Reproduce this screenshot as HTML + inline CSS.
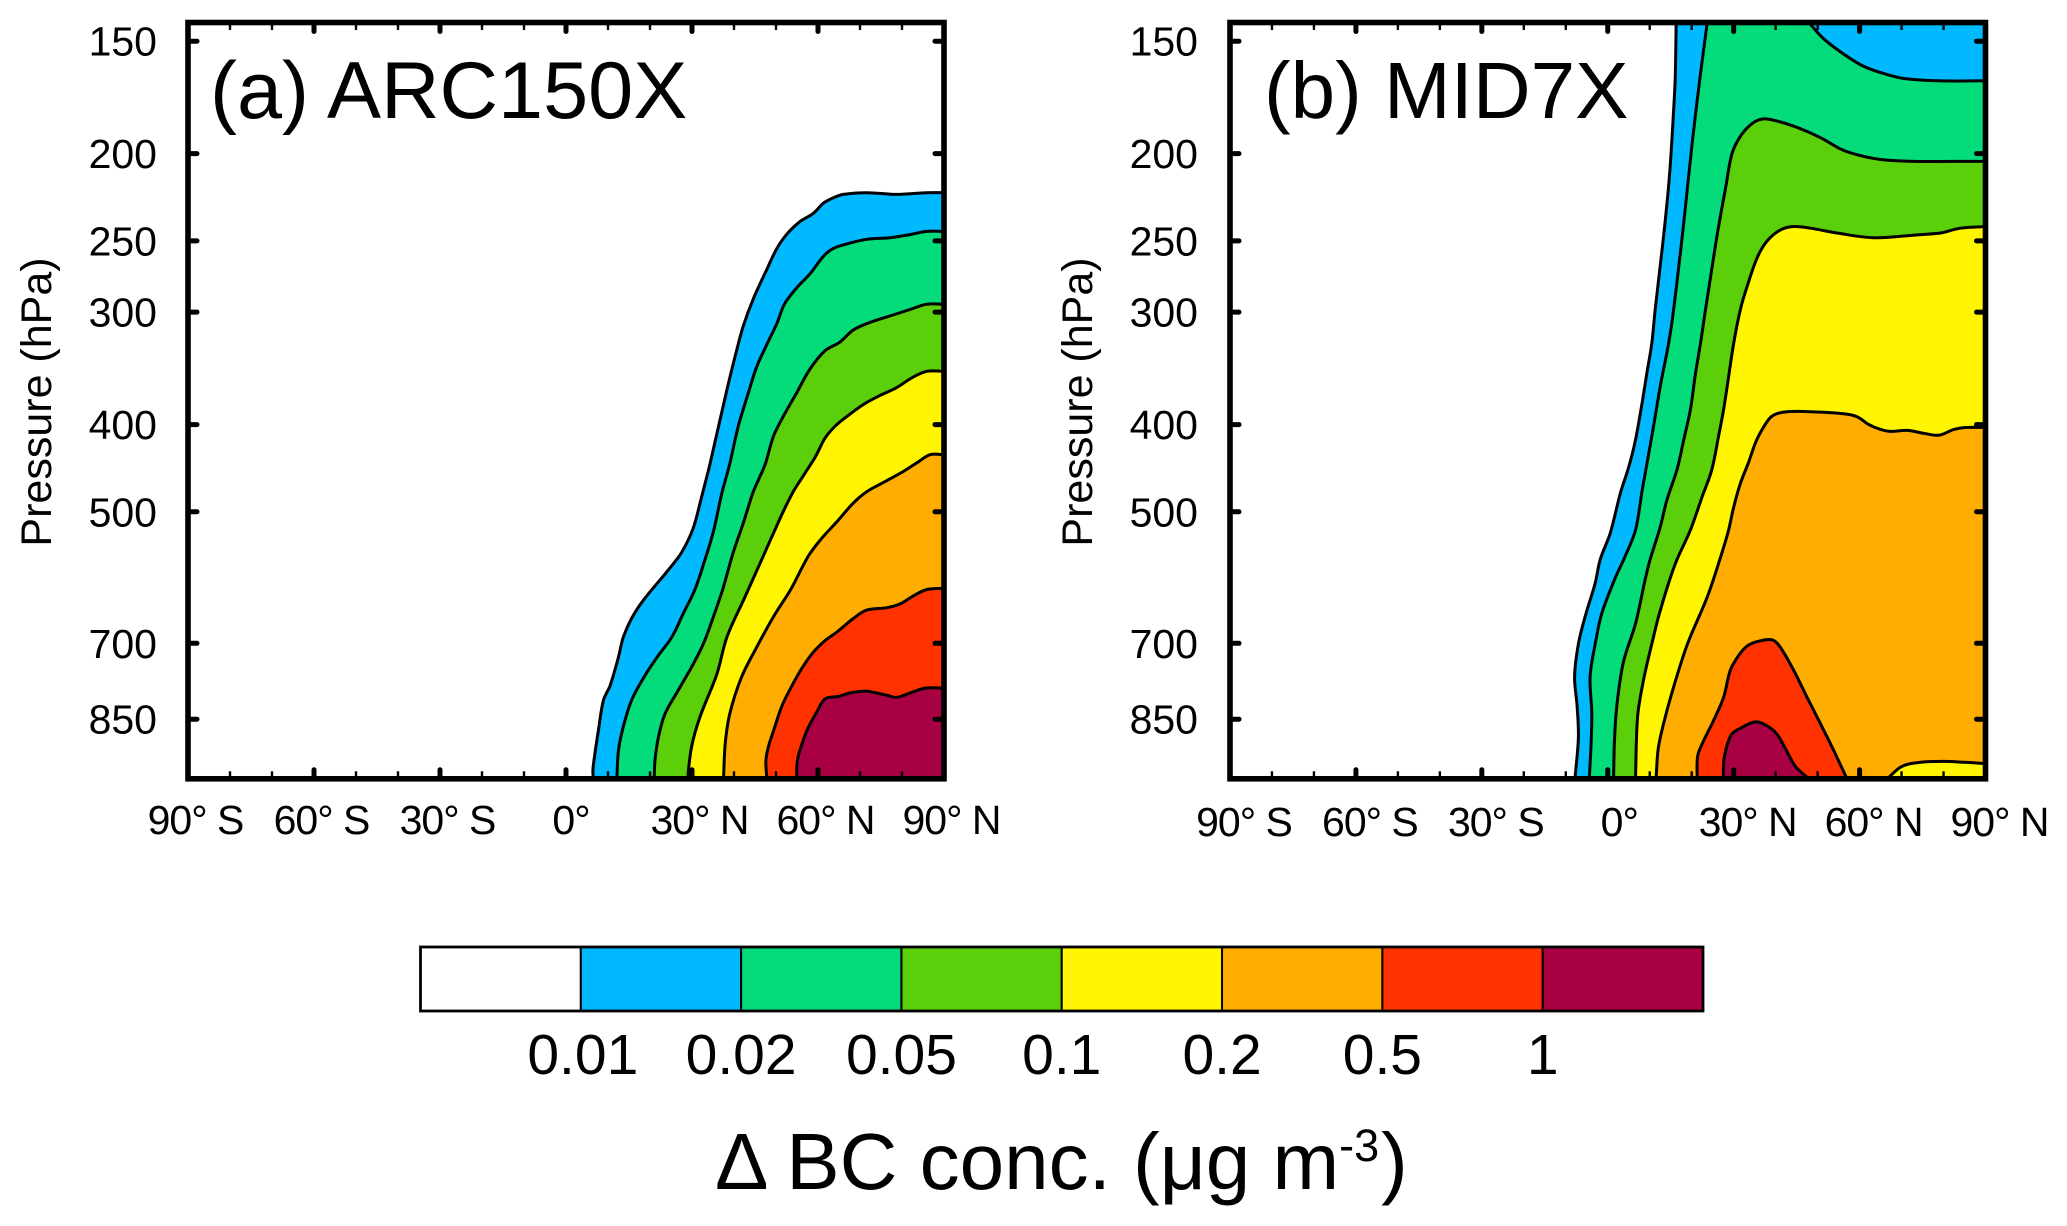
<!DOCTYPE html>
<html lang="en">
<head>
<meta charset="utf-8">
<title>BC concentration change</title>
<style>
html,body{margin:0;padding:0;background:#fff;}
svg{display:block;font-family:"Liberation Sans",sans-serif;fill:#000;}
</style>
</head>
<body>
<svg id="chart" width="2067" height="1226" viewBox="0 0 2067 1226">
  <rect x="0" y="0" width="2067" height="1226" fill="#fff"/>
  <defs>
    <clipPath id="clip-a"><rect x="188" y="22.5" width="756" height="756.5"/></clipPath>
    <clipPath id="clip-b"><rect x="1230" y="22.5" width="755.5" height="756.5"/></clipPath>
  </defs>
  <g id="panel-a"></g>
  <g id="panel-b"></g>
  <text x="210" y="118" font-size="81">(a) ARC150X</text>
  <text x="1264" y="118" font-size="80">(b) MID7X</text>
  <g id="colorbar"></g>
  <text x="715" y="1189" font-size="80">Δ BC conc. (μg m<tspan font-size="45" dy="-28">-3</tspan><tspan dy="28" dx="2">)</tspan></text>
</svg>
<script>
// Axis values
const pressureTicks = [150, 200, 250, 300, 400, 500, 700, 850];
const latMajorTicks = [-90, -60, -30, 0, 30, 60, 90];
const latMajorLabels = ['90° S', '60° S', '30° S', '0°', '30° N', '60° N', '90° N'];
const latMinorTicks = [-80, -70, -50, -40, -20, -10, 10, 20, 40, 50, 70, 80];
const pressureTop = 143;
const pressureBottom = 990;

// Colour bar categories
const colorbarLabels = ['0.01', '0.02', '0.05', '0.1', '0.2', '0.5', '1'];

// Panel (a) ARC150X contours: [latitude, hPa]
const arc001 = [[90,221],[85.9,221],[78.7,222],[71.6,221],[66,222],[63.6,224],[61.3,227],[58.9,233],[55.7,238],[52.5,246],[50.2,255],[47.8,269],[44.6,290],[42.2,311],[40.2,337],[38.3,366],[36.3,402],[34.3,442],[32.3,481],[30.3,521],[27.5,555],[24,583],[18.4,627],[15.6,657],[13.6,690],[12.5,725],[10.5,780],[8.9,810],[7.7,876],[6.9,927],[6.4,968],[6.5,990]];
const arc002 = [[90,244],[85.9,244],[81.9,246],[77.1,248],[71.6,249],[66.8,252],[63.6,255],[61.3,260],[58.1,272],[54.9,282],[52,294],[50.2,309],[47.8,326],[45.4,345],[43.4,369],[41,402],[39,442],[37.1,477],[35.1,526],[33.1,565],[30.7,610],[27.9,649],[25.2,689],[22,722],[18.8,760],[15.6,810],[13.6,868],[12.5,920],[12.1,990]];
const arc005 = [[90,294],[85.9,294],[81.9,298],[77.1,303],[72.4,308],[68.4,314],[65.2,324],[61.7,331],[58.1,347],[54.9,369],[51.7,392],[49.4,412],[47.4,443],[44.6,475],[42.2,515],[39.8,555],[37.3,610],[35.1,654],[32.7,701],[29.9,744],[26.4,794],[23.6,838],[22,890],[21.2,944],[21,990]];
const arc01 = [[90,349],[85.9,349],[82.3,355],[78.7,364],[74.4,372],[70.8,380],[66.8,392],[64,402],[61.7,414],[59.3,435],[56.9,453],[54.1,475],[51.7,500],[49.4,528],[46.6,565],[42.6,622],[38.3,689],[35.9,758],[31.9,845],[29.9,912],[29.1,976],[29.1,990]];
const arc02 = [[90,432],[86.7,432],[83.9,440],[80.3,451],[75.9,463],[71.6,475],[68.4,489],[64.5,513],[60.9,535],[57.7,560],[53.5,610],[49.4,654],[45.4,707],[41.8,763],[39,838],[37.9,905],[37.5,990]];
const arc05 = [[90,608],[85.9,610],[82.7,620],[79.5,633],[76.4,639],[71.6,643],[68.4,657],[64.5,680],[61.7,695],[58.9,716],[56.1,747],[53.7,782],[51.4,822],[49.4,876],[48.2,912],[47.6,944],[47.8,990]];
const arc1 = [[90,785],[85.5,785],[81.9,795],[78.7,804],[76.7,800],[74,795],[71.2,791],[67.6,795],[64.8,802],[61.7,807],[59.7,835],[57.7,868],[56.1,908],[55.1,944],[54.9,990]];

// Panel (b) MID7X contours: [latitude, hPa]
const mid001 = [[16.3,142],[16.1,164],[15.7,179],[14.7,212],[13.3,247],[11.3,298],[10.5,325],[9.3,351],[8.2,378],[6.6,416],[5,446],[3,477],[0.6,528],[-1.8,565],[-3,600],[-5.4,654],[-7,701],[-7.9,763],[-7.3,822],[-7,890],[-7.8,990]];
const mid002 = [[23.8,142],[22.1,163],[20.1,195],[18.1,239],[15.7,298],[14.5,325],[12.5,363],[10.9,402],[9.5,438],[8.2,473],[6.6,524],[3.8,565],[1.8,592],[-1.4,648],[-3,701],[-4.2,763],[-3.8,838],[-4,912],[-4.4,990]];
const mid001Upper = [[47.9,143],[51.4,149],[56.2,155],[61,160],[65.9,163],[70.6,165],[78.6,166],[90,166]];
const mid005 = [[90,204],[82.5,204],[72.9,204],[65,203],[60.2,201],[55.8,198],[50.7,192],[45.1,187],[40.4,184],[37.1,183],[34.5,185],[31.7,191],[29.6,200],[28.1,218],[26.4,241],[24.5,274],[23.3,298],[22.1,325],[20.9,351],[19.7,385],[18.1,416],[16.5,449],[14.1,485],[12.5,520],[10.1,565],[8.9,595],[6.6,666],[3.8,732],[2.3,810],[1.6,896],[1.4,990]];
const mid01 = [[90,241],[84,242],[79.3,245],[74.5,246],[63.4,248],[54.6,245],[48.3,242],[44.3,241],[41.2,243],[38,250],[35.6,261],[33.2,281],[31.6,298],[30,325],[28.8,354],[27.6,385],[26.4,412],[24.8,449],[22.5,481],[19.7,524],[16.5,565],[14.5,600],[12.1,654],[10.5,701],[8.5,770],[7.1,845],[6.6,990]];
const mid02 = [[90,403],[85.2,403],[82.5,405],[78.9,411],[75.3,409],[71.3,406],[67.4,407],[65,405],[62.2,400],[59.4,392],[56.2,389],[48.3,387],[42.7,387],[40.3,389],[38.7,393],[36.8,405],[35.2,419],[33.6,440],[31.6,465],[30,494],[28.8,524],[26.7,565],[23.7,622],[19.3,695],[16.9,750],[14.1,832],[12.1,912],[11.5,990]];
const mid05 = [[21.3,990],[21.4,935],[22.5,905],[25.2,853],[27.6,804],[29.2,750],[31.2,722],[33.2,705],[35.6,697],[39.2,694],[41.1,707],[44.3,750],[47.5,804],[50.7,860],[53.8,920],[57,990]];
const mid1 = [[27.5,990],[27.8,935],[29.4,885],[31.6,870],[35.2,856],[38,865],[40.3,883],[42.3,916],[44.7,959],[47.9,990]];
const mid02Low = [[66.6,990],[70.1,959],[74.5,949],[80.1,947],[84.8,949],[90,952]];

// Palette (one colour per colour-bar class)
const palette = ['#ffffff', '#00b9ff', '#04db7a', '#5acf0a', '#fff500', '#ffad00', '#ff3200', '#a80042'];

const root = document.getElementById('chart');
const ns = root.namespaceURI;

function make(tag, parent) {
  const el = document.createElementNS(ns, tag);
  parent.appendChild(el);
  return el;
}

function yScale(p) {
  return 41.2 + 900 * Math.log10(p / 150);
}

function makeXScale(left, right) {
  return function (lat) {
    return left + (lat + 90) * (right - left) / 180;
  };
}

function tangentAt(pts, i) {
  const a = pts[Math.max(i - 1, 0)];
  const b = pts[Math.min(i + 1, pts.length - 1)];
  const dx = b[0] - a[0];
  const dy = b[1] - a[1];
  const len = Math.hypot(dx, dy) || 1;
  return [dx / len, dy / len];
}

function curvePath(pts) {
  let d = 'M' + pts[0][0].toFixed(1) + ' ' + pts[0][1].toFixed(1);
  for (let i = 0; i < pts.length - 1; i++) {
    const p1 = pts[i];
    const p2 = pts[i + 1];
    const seg = Math.hypot(p2[0] - p1[0], p2[1] - p1[1]) / 3;
    const t1 = tangentAt(pts, i);
    const t2 = tangentAt(pts, i + 1);
    const c1x = p1[0] + t1[0] * seg;
    const c1y = p1[1] + t1[1] * seg;
    const c2x = p2[0] - t2[0] * seg;
    const c2y = p2[1] - t2[1] * seg;
    d += 'C' + c1x.toFixed(1) + ' ' + c1y.toFixed(1) + ' ' + c2x.toFixed(1) + ' ' + c2y.toFixed(1) + ' ' + p2[0].toFixed(1) + ' ' + p2[1].toFixed(1);
  }
  return d;
}

function drawContour(group, xs, series, closure, fill, name) {
  const pts = series.map(function (q) { return [xs(q[0]), yScale(q[1])]; });
  let closing = '';
  closure.forEach(function (q) {
    closing += 'L' + xs(q[0]).toFixed(1) + ' ' + yScale(q[1]).toFixed(1);
  });
  const area = make('path', group);
  
  
  area.setAttribute('d', curvePath(pts) + closing + 'Z');
  area.setAttribute('fill', fill);
  const line = make('path', group);
  
  
  line.setAttribute('d', curvePath(pts));
  line.setAttribute('fill', 'none');
  line.setAttribute('stroke', '#000');
  line.setAttribute('stroke-width', '3');
  line.setAttribute('stroke-linejoin', 'round');
}

function drawTick(group, x1, y1, x2, y2, width, cap, name) {
  const t = make('line', group);
  
  
  t.setAttribute('x1', x1);
  t.setAttribute('y1', y1);
  t.setAttribute('x2', x2);
  t.setAttribute('y2', y2);
  t.setAttribute('stroke', '#000');
  t.setAttribute('stroke-width', width);
  t.setAttribute('stroke-linecap', cap);
}

function drawAxes(group, xs, left, right, yLabelRight, titleBaseline, xLabelOffset, xLabelBaseline) {
  const top = yScale(pressureTop);
  const bottom = yScale(pressureBottom);
  latMajorTicks.forEach(function (lat, i) {
    drawTick(group, xs(lat), bottom, xs(lat), bottom - 9, 5, 'round', 'x-major-tick-bottom');
    drawTick(group, xs(lat), top, xs(lat), top + 9, 5, 'round', 'x-major-tick-top');
    const label = make('text', group);
    
    
    label.setAttribute('x', xs(lat) + (lat === 0 ? xLabelOffset - 2.5 : xLabelOffset));
    label.setAttribute('y', xLabelBaseline);
    label.setAttribute('font-size', '41');
    label.setAttribute('letter-spacing', '-1');
    label.setAttribute('text-anchor', 'middle');
    label.textContent = latMajorLabels[i];
  });
  latMinorTicks.forEach(function (lat) {
    drawTick(group, xs(lat), bottom, xs(lat), bottom - 7.5, 2.4, 'butt', 'x-minor-tick-bottom');
    drawTick(group, xs(lat), top, xs(lat), top + 7.5, 2.4, 'butt', 'x-minor-tick-top');
  });
  pressureTicks.forEach(function (p) {
    drawTick(group, left, yScale(p), left + 9, yScale(p), 5, 'round', 'y-tick-left');
    drawTick(group, right, yScale(p), right - 9, yScale(p), 5, 'round', 'y-tick-right');
    const label = make('text', group);
    
    
    label.setAttribute('x', yLabelRight);
    label.setAttribute('y', yScale(p) + 14.5);
    label.setAttribute('font-size', '41');
    label.setAttribute('text-anchor', 'end');
    label.textContent = String(p);
  });
  const frame = make('rect', group);
  
  
  frame.setAttribute('x', left);
  frame.setAttribute('y', top);
  frame.setAttribute('width', right - left);
  frame.setAttribute('height', bottom - top);
  frame.setAttribute('fill', 'none');
  frame.setAttribute('stroke', '#000');
  frame.setAttribute('stroke-width', '5.6');
  const title = make('text', group);
  
  
  title.setAttribute('transform', 'translate(' + titleBaseline + ' 402) rotate(-90)');
  title.setAttribute('font-size', '43');
  title.setAttribute('text-anchor', 'middle');
  title.textContent = 'Pressure (hPa)';
}

// Panel (a)
const panelA = document.getElementById('panel-a');
const xA = makeXScale(188, 944);
const fieldA = make('g', panelA);


fieldA.setAttribute('clip-path', 'url(#clip-a)');
const rightBottom = [[90, pressureBottom]];
const rightCorners = [[90, pressureBottom], [90, pressureTop]];
const rightTop = [[90, pressureTop]];
drawContour(fieldA, xA, arc001, rightBottom, palette[1], 'arc-0.01');
drawContour(fieldA, xA, arc002, rightBottom, palette[2], 'arc-0.02');
drawContour(fieldA, xA, arc005, rightBottom, palette[3], 'arc-0.05');
drawContour(fieldA, xA, arc01, rightBottom, palette[4], 'arc-0.1');
drawContour(fieldA, xA, arc02, rightBottom, palette[5], 'arc-0.2');
drawContour(fieldA, xA, arc05, rightBottom, palette[6], 'arc-0.5');
drawContour(fieldA, xA, arc1, rightBottom, palette[7], 'arc-1');
drawAxes(panelA, xA, 188, 944, 157, 51, 7.5, 834);

// Panel (b)
const panelB = document.getElementById('panel-b');
const xB = makeXScale(1230, 1985.5);
const fieldB = make('g', panelB);


fieldB.setAttribute('clip-path', 'url(#clip-b)');
drawContour(fieldB, xB, mid001, rightCorners, palette[1], 'mid-0.01');
drawContour(fieldB, xB, mid002, rightCorners, palette[2], 'mid-0.02');
drawContour(fieldB, xB, mid001Upper, rightTop, palette[1], 'mid-0.01-upper');
drawContour(fieldB, xB, mid005, rightBottom, palette[3], 'mid-0.05');
drawContour(fieldB, xB, mid01, rightBottom, palette[4], 'mid-0.1');
drawContour(fieldB, xB, mid02, rightBottom, palette[5], 'mid-0.2');
drawContour(fieldB, xB, mid05, [], palette[6], 'mid-0.5');
drawContour(fieldB, xB, mid1, [], palette[7], 'mid-1');
drawContour(fieldB, xB, mid02Low, rightBottom, palette[4], 'mid-0.2-low');
drawAxes(panelB, xB, 1230, 1985.5, 1198, 1092, 14, 836);

// Colour bar
const bar = document.getElementById('colorbar');
const barLeft = 420.5;
const barStep = (1703 - 420.5) / palette.length;
palette.forEach(function (color, i) {
  const cell = make('rect', bar);
  
  
  cell.setAttribute('x', barLeft + i * barStep);
  cell.setAttribute('y', 947);
  cell.setAttribute('width', barStep);
  cell.setAttribute('height', 64);
  cell.setAttribute('fill', color);
  cell.setAttribute('stroke', '#000');
  cell.setAttribute('stroke-width', '2');
});
colorbarLabels.forEach(function (text, i) {
  const label = make('text', bar);
  
  
  label.setAttribute('x', barLeft + (i + 1) * barStep + (i === 0 ? 2 : 0));
  label.setAttribute('y', 1074);
  label.setAttribute('font-size', '57');
  label.setAttribute('text-anchor', 'middle');
  label.textContent = text;
});
const barFrame = make('rect', bar);


barFrame.setAttribute('x', barLeft);
barFrame.setAttribute('y', 947);
barFrame.setAttribute('width', 1282.5);
barFrame.setAttribute('height', 64);
barFrame.setAttribute('fill', 'none');
barFrame.setAttribute('stroke', '#000');
barFrame.setAttribute('stroke-width', '2.8');
</script>
</body>
</html>
